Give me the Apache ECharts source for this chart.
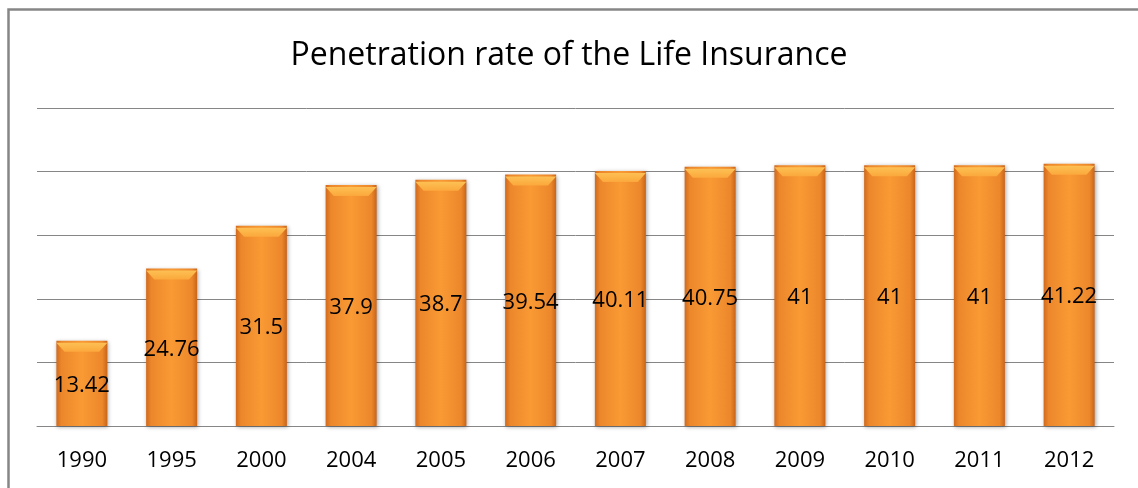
<!DOCTYPE html>
<html>
<head>
<meta charset="utf-8">
<script src="https://cdn.jsdelivr.net/npm/echarts@6/dist/echarts.min.js"></script>
<style>
  html, body { margin: 0; padding: 0; background: #fff; }
  #main { width: 1138px; height: 488px; }
</style>
</head>
<body>
<div id="main"></div>
<script>
var chart = echarts.init(document.getElementById('main'));

// years on the x axis
var years = ['1990', '1995', '2000', '2004', '2005', '2006', '2007', '2008', '2009', '2010', '2011', '2012'];
// penetration rate, one value per year
var rates = [13.42, 24.76, 31.5, 37.9, 38.7, 39.54, 40.11, 40.75, 41, 41, 41, 41.22];

const fontName = 'Open Sans';

var option = {
    animation: false,
    title: {
        text: 'Penetration rate of the Life Insurance',
        left: 'center',
        top: 35,
        padding: [5, 5, 5, 17],
        textStyle: { fontFamily: fontName, fontSize: 32, fontWeight: 'normal', color: '#000' }
    },
    graphic: [{
        type: 'rect',
        shape: { x: 8.5, y: 9.5, width: 1160, height: 520 },
        style: { fill: 'none', stroke: '#868686', lineWidth: 2.5 },
        silent: true
    }],
    grid: { left: 37, right: 24, top: 108, bottom: 62 },
    xAxis: {
        type: 'category',
        data: years,
        axisTick: { show: false },
        axisLine: { show: true, lineStyle: { color: '#868686', width: 1 } },
        axisLabel: { fontFamily: fontName, fontSize: 22, color: '#000', margin: 24 }
    },
    yAxis: {
        type: 'value',
        min: 0,
        max: 50,
        interval: 10,
        axisLabel: { show: false },
        axisLine: { show: false },
        axisTick: { show: false },
        splitLine: { lineStyle: { color: '#868686', width: 1 } }
    },
    series: [{
        type: 'bar',
        data: rates,
        barWidth: 51,
        itemStyle: {
            color: new echarts.graphic.LinearGradient(0, 0, 1, 0, [
                { offset: 0, color: '#D26A1C' },
                { offset: 0.1, color: '#EC872B' },
                { offset: 0.5, color: '#F99A34' },
                { offset: 0.9, color: '#EC872B' },
                { offset: 1, color: '#C9641A' }
            ]),
            shadowColor: 'rgba(0,0,0,0.35)',
            shadowBlur: 4,
            shadowOffsetX: 1,
            shadowOffsetY: 1
        },
        label: {
            show: true,
            position: 'inside',
            offset: [0, 2],
            fontFamily: fontName,
            fontSize: 22,
            color: '#000'
        }
    }, {
        // light bevel on the top of each bar
        type: 'pictorialBar',
        data: rates,
        symbol: 'path://M0,0 L100,0 L84,18 L16,18 Z',
        symbolSize: [51, 9],
        symbolPosition: 'end',
        symbolOffset: [0, 2],
        z: 3,
        silent: true,
        itemStyle: {
            color: new echarts.graphic.LinearGradient(0, 0, 0, 1, [
                { offset: 0, color: '#FDC053' },
                { offset: 1, color: '#FBA83C' }
            ])
        },
        label: { show: false }
    }]
};

chart.setOption(option);
</script>
</body>
</html>
